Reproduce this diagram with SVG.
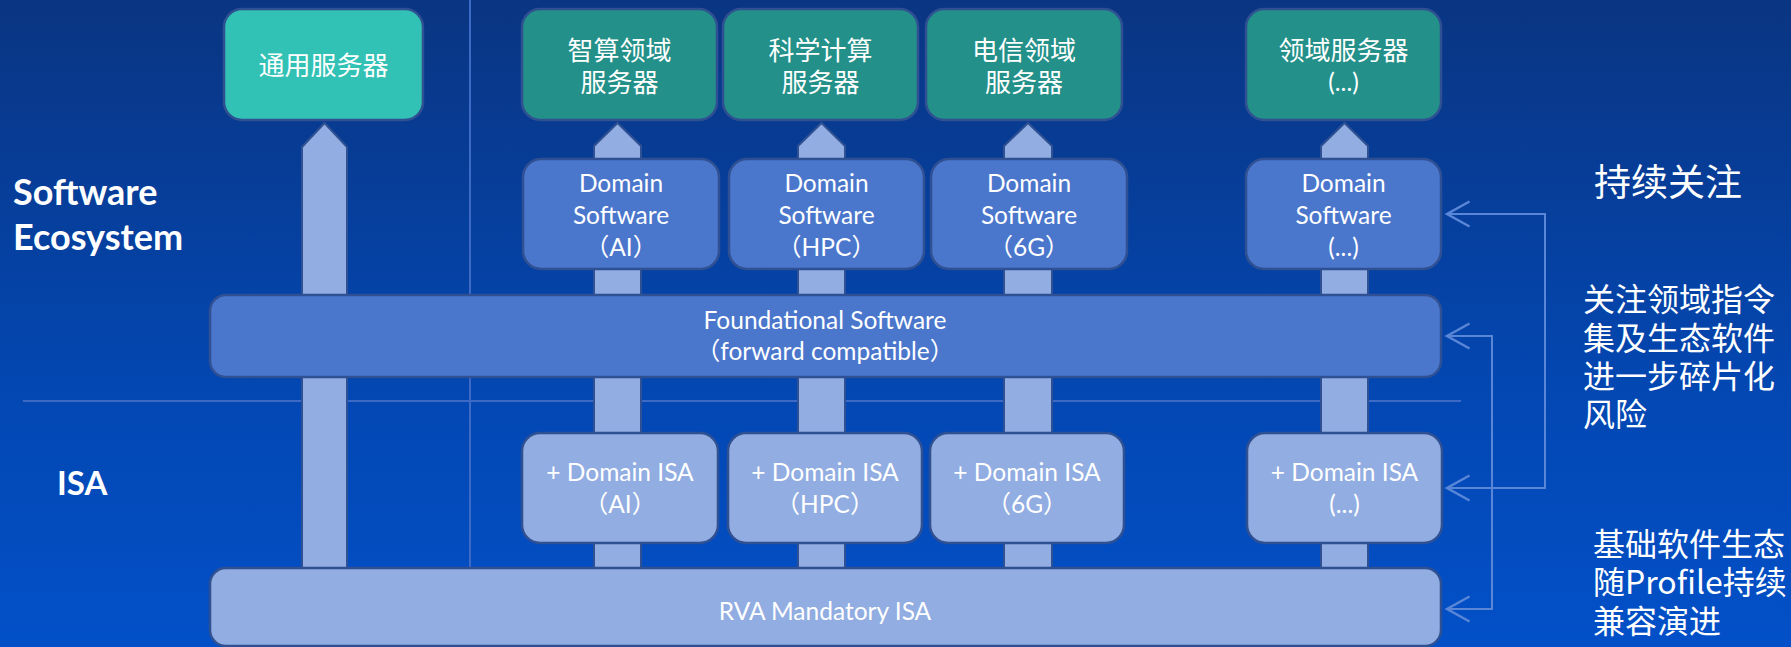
<svg xmlns="http://www.w3.org/2000/svg" width="1791" height="647" viewBox="0 0 1791 647">
<defs>
<linearGradient id="bg" x1="0" y1="0" x2="0" y2="1">
<stop offset="0" stop-color="#0A3582"/>
<stop offset="0.6" stop-color="#0347B2"/>
<stop offset="1" stop-color="#0250C8"/>
</linearGradient>
<marker id="chev" markerUnits="userSpaceOnUse" markerWidth="30" markerHeight="30" viewBox="-20 -12 24 24" refX="0" refY="0" orient="auto-start-reverse">
<path d="M-18,-10 L0,0 L-18,10" fill="none" stroke="#5A86D8" stroke-width="2"/>
</marker>
<style>
.lat{font-family:Lato,"Noto Sans CJK SC",sans-serif;font-size:24.5px;fill:#fff;text-anchor:middle}
.cjk{font-family:"Noto Sans CJK SC",sans-serif;font-size:26px;fill:#fff;text-anchor:middle}
.side{font-family:"Noto Sans CJK SC",sans-serif;font-size:32px;fill:#fff}
.big{font-size:37px}
.hdr{font-family:Lato,"Noto Sans CJK SC",sans-serif;font-weight:bold;fill:#fff}
.h1{font-size:36px}
.h2{font-size:33px}
.box{stroke:#2F5092;stroke-width:2.5}
.gen{fill:#31C1B5}
.srv{fill:#239089}
.sw{fill:#4A76CC}
.isa{fill:#91ADE1}
.col{fill:#91ADE1;stroke:#2F5092;stroke-width:2}
.div{stroke:#3D6AC4;stroke-width:2;fill:none}
.conn{stroke:#5A86D8;stroke-width:2;fill:none;marker-start:url(#chev);marker-end:url(#chev)}
</style>
</defs>
<rect x="0" y="0" width="1791" height="647" fill="url(#bg)"/>

<g id="dividers">
<line class="div" x1="470" y1="0" x2="470" y2="567"/>
<line class="div" x1="23" y1="401" x2="1461" y2="401"/>
</g>

<g id="flows">
<polygon class="col" points="302,568 302,147 324.5,123 347,147 347,568"/>
<polygon class="col" points="594,568 594,146 617.5,123 641,146 641,568"/>
<polygon class="col" points="798,568 798,146 821.5,123 845,146 845,568"/>
<polygon class="col" points="1004,568 1004,146 1028,123 1052,146 1052,568"/>
<polygon class="col" points="1321,568 1321,146 1344.5,123 1368,146 1368,568"/>
</g>

<g id="labels">
<text class="hdr h1" x="13" y="205"><tspan x="13" y="205">Software</tspan><tspan x="13" y="250">Ecosystem</tspan></text>
<text class="hdr h2" x="57" y="495">ISA</text>
</g>

<g id="server-general">
<rect class="box gen" x="224" y="9" width="199" height="111" rx="18"/>
<text class="cjk" x="323.5" y="75">通用服务器</text>
</g>
<g id="server-ai">
<rect class="box srv" x="522" y="9" width="195" height="111" rx="18"/>
<text class="cjk" x="619.5" y="60">智算领域</text>
<text class="cjk" x="619.5" y="92">服务器</text>
</g>
<g id="server-hpc">
<rect class="box srv" x="723" y="9" width="195" height="111" rx="18"/>
<text class="cjk" x="820.5" y="60">科学计算</text>
<text class="cjk" x="820.5" y="92">服务器</text>
</g>
<g id="server-6g">
<rect class="box srv" x="926" y="9" width="196" height="111" rx="18"/>
<text class="cjk" x="1024" y="60">电信领域</text>
<text class="cjk" x="1024" y="92">服务器</text>
</g>
<g id="server-more">
<rect class="box srv" x="1246" y="9" width="195" height="111" rx="18"/>
<text class="cjk" x="1343.5" y="60">领域服务器</text>
<text class="lat" x="1343.5" y="91">(...)</text>
</g>

<g id="sw-ai">
<rect class="box sw" x="523" y="159" width="196" height="110" rx="18"/>
<text class="lat" x="621" y="192">Domain</text>
<text class="lat" x="621" y="224">Software</text>
<text class="lat" x="621" y="256">（AI）</text>
</g>
<g id="sw-hpc">
<rect class="box sw" x="729" y="159" width="195" height="110" rx="18"/>
<text class="lat" x="826.5" y="192">Domain</text>
<text class="lat" x="826.5" y="224">Software</text>
<text class="lat" x="826.5" y="256">（HPC）</text>
</g>
<g id="sw-6g">
<rect class="box sw" x="931" y="159" width="196" height="110" rx="18"/>
<text class="lat" x="1029" y="192">Domain</text>
<text class="lat" x="1029" y="224">Software</text>
<text class="lat" x="1029" y="256">（6G）</text>
</g>
<g id="sw-more">
<rect class="box sw" x="1246" y="159" width="195" height="110" rx="18"/>
<text class="lat" x="1343.5" y="192">Domain</text>
<text class="lat" x="1343.5" y="224">Software</text>
<text class="lat" x="1343.5" y="256">(...)</text>
</g>

<g id="foundational">
<rect class="box sw" x="210" y="295" width="1231" height="82" rx="16"/>
<text class="lat" x="825" y="329">Foundational Software</text>
<text class="lat" x="825" y="360">（forward compatible）</text>
</g>

<g id="isa-ai">
<rect class="box isa" x="522" y="433" width="196" height="110" rx="18"/>
<text class="lat" x="620" y="481">+ Domain ISA</text>
<text class="lat" x="620" y="513">（AI）</text>
</g>
<g id="isa-hpc">
<rect class="box isa" x="728" y="433" width="194" height="110" rx="18"/>
<text class="lat" x="825" y="481">+ Domain ISA</text>
<text class="lat" x="825" y="513">（HPC）</text>
</g>
<g id="isa-6g">
<rect class="box isa" x="930" y="433" width="194" height="110" rx="18"/>
<text class="lat" x="1027" y="481">+ Domain ISA</text>
<text class="lat" x="1027" y="513">（6G）</text>
</g>
<g id="isa-more">
<rect class="box isa" x="1247" y="433" width="195" height="110" rx="18"/>
<text class="lat" x="1344.5" y="481">+ Domain ISA</text>
<text class="lat" x="1344.5" y="513">(...)</text>
</g>

<g id="rva">
<rect class="box isa" x="210" y="568" width="1231" height="78" rx="16"/>
<text class="lat" x="825" y="620">RVA Mandatory ISA</text>
</g>

<g id="connectors">
<polyline class="conn" points="1447,214 1545,214 1545,488 1447,488"/>
<polyline class="conn" points="1447,336 1492,336 1492,609 1447,609"/>
</g>

<g id="notes">
<text class="side big" x="1594" y="196">持续关注</text>
<text class="side" x="1583" y="311"><tspan x="1583" y="311">关注领域指令</tspan><tspan x="1583" y="350">集及生态软件</tspan><tspan x="1583" y="388">进一步碎片化</tspan><tspan x="1583" y="426">风险</tspan></text>
<text class="side" x="1593" y="556"><tspan x="1593" y="556">基础软件生态</tspan><tspan x="1593" y="594">随Profile持续</tspan><tspan x="1593" y="633">兼容演进</tspan></text>
</g>
</svg>
